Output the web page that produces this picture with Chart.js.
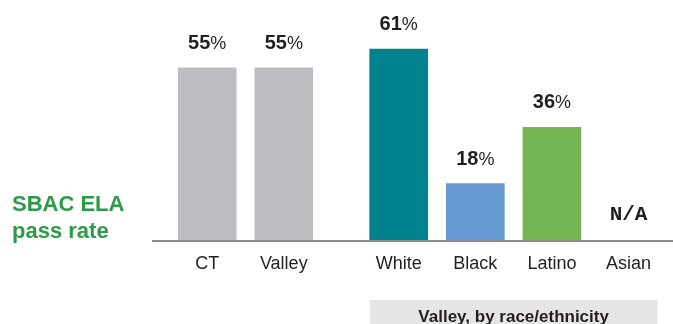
<!DOCTYPE html>
<html>
<head>
<meta charset="utf-8">
<script src="https://cdn.jsdelivr.net/npm/chart.js@4.4.1/dist/chart.umd.min.js"></script>
<style>
  html, body { margin: 0; padding: 0; background: #fff; }
  #wrap { width: 673px; height: 324px; position: relative; }
</style>
</head>
<body>
<div id="wrap"><canvas id="passChart" width="673" height="324"></canvas></div>
<script>
// SBAC ELA pass rates, statewide vs. the Valley and the Valley by race/ethnicity
const groups = ["CT", "Valley", "White", "Black", "Latino", "Asian"];
const passRates = [55, 55, 61, 18, 36, null];
const slotPos = [0, 1, 2.5, 3.5, 4.5, 5.5];
const barColors = ["#bcbdc0", "#bcbdc0", "#00838f", "#6699d3", "#74b651", "#bcbdc0"];
const groupCaption = "Valley, by race/ethnicity";
const sideTitle = ["SBAC ELA", "pass rate"];

const FONT = '"Liberation Sans Narrow", "Liberation Sans", sans-serif';

const labelsPlugin = {
  id: "labelsPlugin",
  afterDatasetsDraw(chart) {
    const { ctx, scales: { x, y }, chartArea } = chart;
    const base = y.getPixelForValue(0);
    ctx.save();

    // baseline
    ctx.strokeStyle = "#8a8a8a";
    ctx.lineWidth = 2;
    ctx.beginPath();
    ctx.moveTo(chartArea.left, base + 1);
    ctx.lineTo(chartArea.right, base + 1);
    ctx.stroke();

    ctx.textBaseline = "alphabetic";
    groups.forEach((g, i) => {
      const cx = x.getPixelForValue(slotPos[i]);
      // category label
      ctx.fillStyle = "#231f20";
      ctx.font = "18px " + FONT;
      ctx.textAlign = "center";
      ctx.fillText(g, cx, base + 29);

      const v = passRates[i];
      if (v == null) {
        ctx.font = "bold 21px \"Liberation Mono\", \"DejaVu Sans Mono\", monospace";
        ctx.fillText("N/A", cx, base - 20);
        return;
      }
      // value label: bold number, lighter percent sign
      const top = y.getPixelForValue(v);
      const num = String(v);
      ctx.font = "bold 20px " + FONT;
      const wNum = ctx.measureText(num).width;
      ctx.font = "18px " + FONT;
      const wPct = ctx.measureText("%").width;
      const left = cx - (wNum + wPct) / 2;
      ctx.textAlign = "left";
      ctx.font = "bold 20px " + FONT;
      ctx.fillText(num, left, top - 19);
      ctx.font = "18px " + FONT;
      ctx.fillText("%", left + wNum, top - 19);
    });

    // caption box under the race/ethnicity group
    const bx0 = x.getPixelForValue(slotPos[2]) - 29;
    const bx1 = x.getPixelForValue(slotPos[5]) + 29;
    ctx.fillStyle = "#e6e6e8";
    ctx.fillRect(bx0, 300, bx1 - bx0, 24);
    ctx.fillStyle = "#231f20";
    ctx.font = "bold 17px " + FONT;
    ctx.textAlign = "center";
    ctx.fillText(groupCaption, (bx0 + bx1) / 2, 322);

    // side title
    ctx.fillStyle = "#2e9a47";
    ctx.font = "bold 22px " + FONT;
    ctx.textAlign = "left";
    ctx.fillText(sideTitle[0], 12, 211);
    ctx.fillText(sideTitle[1], 12, 238);

    ctx.restore();
  }
};

new Chart(document.getElementById("passChart"), {
  type: "bar",
  data: {
    datasets: [{
      data: slotPos.map((p, i) => ({ x: p, y: passRates[i] })),
      backgroundColor: barColors,
      barThickness: 58,
      borderWidth: 0
    }]
  },
  options: {
    responsive: false,
    animation: false,
    layout: { padding: { left: 152, right: 0, top: 0, bottom: 84 } },
    plugins: { legend: { display: false }, tooltip: { enabled: false } },
    scales: {
      x: { type: "linear", offset: false, min: -0.72, max: 6.08, display: false },
      y: { min: 0, max: 76.7, display: false }
    }
  },
  plugins: [labelsPlugin]
});
</script>
</body>
</html>
